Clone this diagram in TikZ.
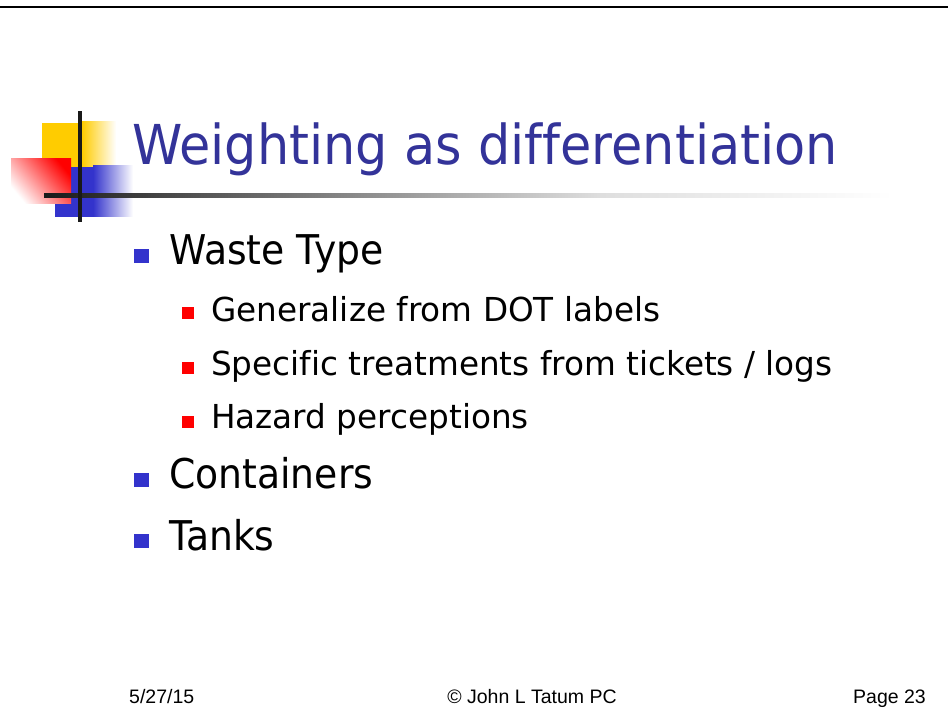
\documentclass[tikz,border=0pt]{standalone}
\usepackage{fontspec}
\setmainfont{Liberation Sans}
\newfontfamily\titlefont[FakeStretch=0.925,Ligatures=NoCommon]{DejaVu Sans}
\newfontfamily\bodyfont[FakeStretch=0.92,Ligatures=NoCommon]{DejaVu Sans}
\newfontfamily\subfont[FakeStretch=0.99,Ligatures=NoCommon]{DejaVu Sans}
\usetikzlibrary{positioning}
\definecolor{titleblue}{RGB}{51,51,153}
\definecolor{bulletblue}{RGB}{51,51,204}
\definecolor{logoyellow}{RGB}{255,204,0}

\begin{document}
\begin{tikzpicture}[x=1pt,y=-1pt,
    slidetitle/.style={font=\titlefont\fontsize{55}{60}\selectfont,text=titleblue,inner sep=0pt,anchor=base west},
    lvlone/.style={font=\bodyfont\fontsize{41}{48}\selectfont,inner sep=0pt,anchor=base west},
    lvltwo/.style={font=\subfont\fontsize{33}{40}\selectfont,inner sep=0pt,anchor=base west},
    dotone/.style={fill=bulletblue,minimum width=15pt,minimum height=14pt,inner sep=0pt},
    dottwo/.style={fill=red,minimum size=12pt,inner sep=0pt},
    foot/.style={font=\fontsize{19.5}{22}\selectfont,inner sep=0pt}]

    \useasboundingbox[fill=white] (0,0) rectangle (948,722);
    \draw[line width=2.5pt] (0,7) -- (948,7);

    % logo
    \fill[logoyellow] (42,123) rectangle (82,167);
    \shade[left color=logoyellow,right color=white] (82,122) rectangle (116,167);
    \fill[bulletblue] (55,167) rectangle (93,217);
    \shade[left color=bulletblue,right color=white] (93,166) rectangle (133,217);
    \shade[shading=axis,top color=red,bottom color=white,shading angle=-50] (11,159) rectangle (71,204);
    \shade[left color=black!90,right color=black!67] (44,194) rectangle (200,198);
    \shade[left color=black!67,right color=black!13] (200,194) rectangle (600,198);
    \shade[left color=black!13,right color=white] (600,194) rectangle (893,198);
    \fill[black!90] (78,111) rectangle (82,222);

    \node[slidetitle] (title) at (132,165) {Weighting as differentiation};

    \node[dotone] (b-waste) at (141,256) {};
    \node[lvlone] (waste) at (169,265) {Waste Type};
    \node[dottwo] (b-dot) at (187.5,313) {};
    \node[lvltwo] (dot) at (211,321) {Generalize from DOT labels};
    \node[dottwo] (b-treat) at (187.5,368) {};
    \node[lvltwo] (treat) at (211,375) {Specific treatments from tickets / logs};
    \node[dottwo] (b-hazard) at (187.5,422) {};
    \node[lvltwo] (hazard) at (211,428) {Hazard perceptions};
    \node[dotone] (b-cont) at (141,479.5) {};
    \node[lvlone] (cont) at (169,488) {Containers};
    \node[dotone] (b-tanks) at (141,541) {};
    \node[lvlone] (tanks) at (169,550) {Tanks};

    \node[foot,anchor=base west] (date) at (129,703) {5/27/15};
    \node[foot,anchor=base] (copy) at (532,703) {\textcopyright{} John L Tatum PC};
    \node[foot,anchor=base east] (page) at (926,703) {Page 23};
\end{tikzpicture}
\end{document}
